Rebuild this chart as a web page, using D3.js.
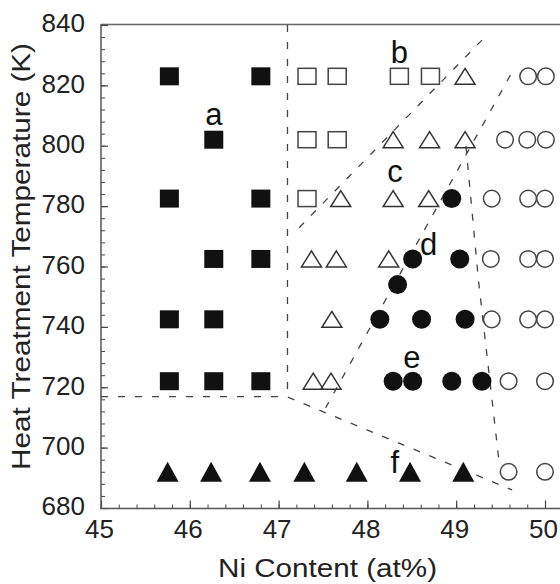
<!DOCTYPE html>
<html>
<head>
<meta charset="utf-8">
<script src="https://cdn.jsdelivr.net/npm/d3@7"></script>
<style>
  body { margin: 0; background: #fff; }
  svg { display: block; font-family: "Liberation Sans", Arial, sans-serif; }
</style>
</head>
<body>
<div id="chart"></div>
<script>
// ticks
const xTicks = [45, 46, 47, 48, 49, 50];
const yTicks = [680, 700, 720, 740, 760, 780, 800, 820, 840];

// [Ni at%, temperature K]
const filledSquares = [[45.77, 823], [46.8, 823], [46.27, 802], [45.77, 782.5], [46.8, 782.5],
  [46.27, 762.5], [46.8, 762.5], [45.77, 742.5], [46.27, 742.5], [45.77, 722], [46.27, 722], [46.8, 722]];
const openSquares = [[47.32, 823], [47.66, 823], [48.36, 823], [48.71, 823],
  [47.32, 802], [47.66, 802], [47.32, 782.5]];
const openTriangles = [[49.1, 823], [48.29, 802], [48.7, 802], [49.1, 802], [47.7, 782.5], [48.29, 782.5],
  [48.69, 782.5], [47.37, 762.5], [47.65, 762.5], [48.24, 762.5], [47.6, 742.5], [47.39, 722], [47.59, 722]];
const filledCircles = [[48.95, 782.5], [48.51, 762.5], [49.04, 762.5], [48.34, 754], [48.14, 742.5],
  [48.61, 742.5], [49.1, 742.5], [48.29, 722], [48.51, 722], [48.95, 722], [49.29, 722]];
const openCircles = [[49.81, 823], [50.01, 823], [49.55, 802], [49.8, 802], [50.01, 802],
  [49.4, 782.5], [49.81, 782.5], [50, 782.5], [49.39, 762.5], [49.81, 762.5], [50, 762.5],
  [49.4, 742.5], [49.81, 742.5], [50, 742.5], [49.59, 722], [50, 722], [49.59, 692], [50, 692]];
const filledTriangles = [[45.75, 692], [46.24, 692], [46.79, 692], [47.29, 692], [47.88, 692], [48.48, 692], [49.08, 692]];

// phase boundaries (dashed)
const boundaries = [
  [[45, 716.9], [47.09, 716.9], [49.63, 686]],
  [[47.1, 840], [47.1, 716.9]],
  [[49.29, 835], [47.17, 771]],
  [[49.61, 823.4], [47.53, 713.2]],
  [[49.11, 799.9], [49.25, 755.6], [49.48, 696]]
];

// region labels: [text, x, baseline T]
const regionLabels = [["a", 46.27, 806.9], ["b", 48.36, 827.4], ["c", 48.31, 788],
  ["d", 48.69, 763.8], ["e", 48.5, 726.4], ["f", 48.31, 691.7]];

const width = 560, height = 584;

const svg = d3.select("#chart")
  .append("svg")
  .attr("width", width)
  .attr("height", height);

const x = d3.scaleLinear().domain([45, 50]).range([101, 545]);
const y = d3.scaleLinear().domain([680, 840]).range([508, 25]);

// frame lines
svg.append("line").attr("x1", 101).attr("x2", 560).attr("y1", 24.5).attr("y2", 24.5)
  .attr("stroke", "#666").attr("stroke-width", 1.5);

// minor ticks
svg.append("g")
  .attr("transform", "translate(101,0)")
  .call(d3.axisLeft(y).tickValues(d3.range(680, 841, 4)).tickSize(-4).tickFormat(""))
  .call(g => g.select(".domain").remove())
  .selectAll("line").attr("stroke", "#444");
svg.append("g")
  .attr("transform", "translate(0,508.5)")
  .call(d3.axisBottom(x).tickValues(d3.range(45, 50.21, 0.2)).tickSize(-4).tickFormat(""))
  .call(g => g.select(".domain").remove())
  .selectAll("line").attr("stroke", "#444");

// major ticks + labels
const yAxis = svg.append("g")
  .attr("transform", "translate(101,0)")
  .call(d3.axisLeft(y).tickValues(yTicks).tickSize(-7).tickPadding(16).tickFormat(d3.format("d")));
yAxis.select(".domain").remove();
yAxis.selectAll("line").attr("stroke", "#444").attr("stroke-width", 1.2);
yAxis.selectAll("text").attr("font-size", 26).attr("fill", "#222").attr("dy", "0.26em")
  .attr("font-family", "Liberation Sans, Arial, sans-serif");

const xAxis = svg.append("g")
  .attr("transform", "translate(0,508.5)")
  .call(d3.axisBottom(x).tickValues(xTicks).tickSize(-8).tickPadding(11).tickFormat(d3.format("d")));
xAxis.select(".domain").remove();
xAxis.selectAll("line").attr("stroke", "#444").attr("stroke-width", 1.2);
xAxis.selectAll("text").attr("font-size", 26).attr("fill", "#222").attr("dx", -2)
  .attr("font-family", "Liberation Sans, Arial, sans-serif");

svg.append("line").attr("x1", 101).attr("x2", 101).attr("y1", 24).attr("y2", 509)
  .attr("stroke", "#555").attr("stroke-width", 1.5);
svg.append("line").attr("x1", 100).attr("x2", 560).attr("y1", 508.5).attr("y2", 508.5)
  .attr("stroke", "#555").attr("stroke-width", 1.5);

// axis titles
svg.append("text")
  .attr("x", 327.5).attr("y", 577)
  .attr("text-anchor", "middle")
  .attr("font-size", 26).attr("fill", "#222")
  .attr("textLength", 219).attr("lengthAdjust", "spacingAndGlyphs")
  .text("Ni Content (at%)");
svg.append("text")
  .attr("transform", "translate(30,256.5) rotate(-90)")
  .attr("text-anchor", "middle")
  .attr("font-size", 26).attr("fill", "#222")
  .attr("textLength", 427).attr("lengthAdjust", "spacingAndGlyphs")
  .text("Heat Treatment Temperature (K)");

// boundaries
const line = d3.line().x(d => x(d[0])).y(d => y(d[1]));
svg.append("g").selectAll("path")
  .data(boundaries)
  .enter().append("path")
  .attr("d", line)
  .attr("fill", "none")
  .attr("stroke", "#444")
  .attr("stroke-width", 1.3)
  .attr("stroke-dasharray", "7,10");

// markers
const marks = svg.append("g");

marks.selectAll(".fsq").data(filledSquares).enter().append("rect")
  .attr("x", d => x(d[0]) - 9.5).attr("y", d => y(d[1]) - 9)
  .attr("width", 19).attr("height", 18).attr("fill", "#111");

marks.selectAll(".osq").data(openSquares).enter().append("rect")
  .attr("x", d => x(d[0]) - 9).attr("y", d => y(d[1]) - 8)
  .attr("width", 18).attr("height", 16)
  .attr("fill", "none").attr("stroke", "#444").attr("stroke-width", 1.5);

function tri(cx, cy, w, h) {
  return `M${cx},${cy - h / 2}L${cx + w / 2},${cy + h / 2}L${cx - w / 2},${cy + h / 2}Z`;
}

marks.selectAll(".otri").data(openTriangles).enter().append("path")
  .attr("d", d => tri(x(d[0]), y(d[1]), 20, 16))
  .attr("fill", "none").attr("stroke", "#333").attr("stroke-width", 1.5);

marks.selectAll(".ftri").data(filledTriangles).enter().append("path")
  .attr("d", d => tri(x(d[0]), y(d[1]), 22, 20))
  .attr("fill", "#111");

marks.selectAll(".fci").data(filledCircles).enter().append("circle")
  .attr("cx", d => x(d[0])).attr("cy", d => y(d[1])).attr("r", 9.5)
  .attr("fill", "#111");

marks.selectAll(".oci").data(openCircles).enter().append("circle")
  .attr("cx", d => x(d[0])).attr("cy", d => y(d[1])).attr("r", 8.3)
  .attr("fill", "none").attr("stroke", "#444").attr("stroke-width", 1.5);

// region labels
svg.append("g").selectAll("text")
  .data(regionLabels)
  .enter().append("text")
  .attr("x", d => x(d[1])).attr("y", d => y(d[2]))
  .attr("text-anchor", "middle")
  .attr("font-size", 31).attr("fill", "#111")
  .text(d => d[0]);
</script>
</body>
</html>
